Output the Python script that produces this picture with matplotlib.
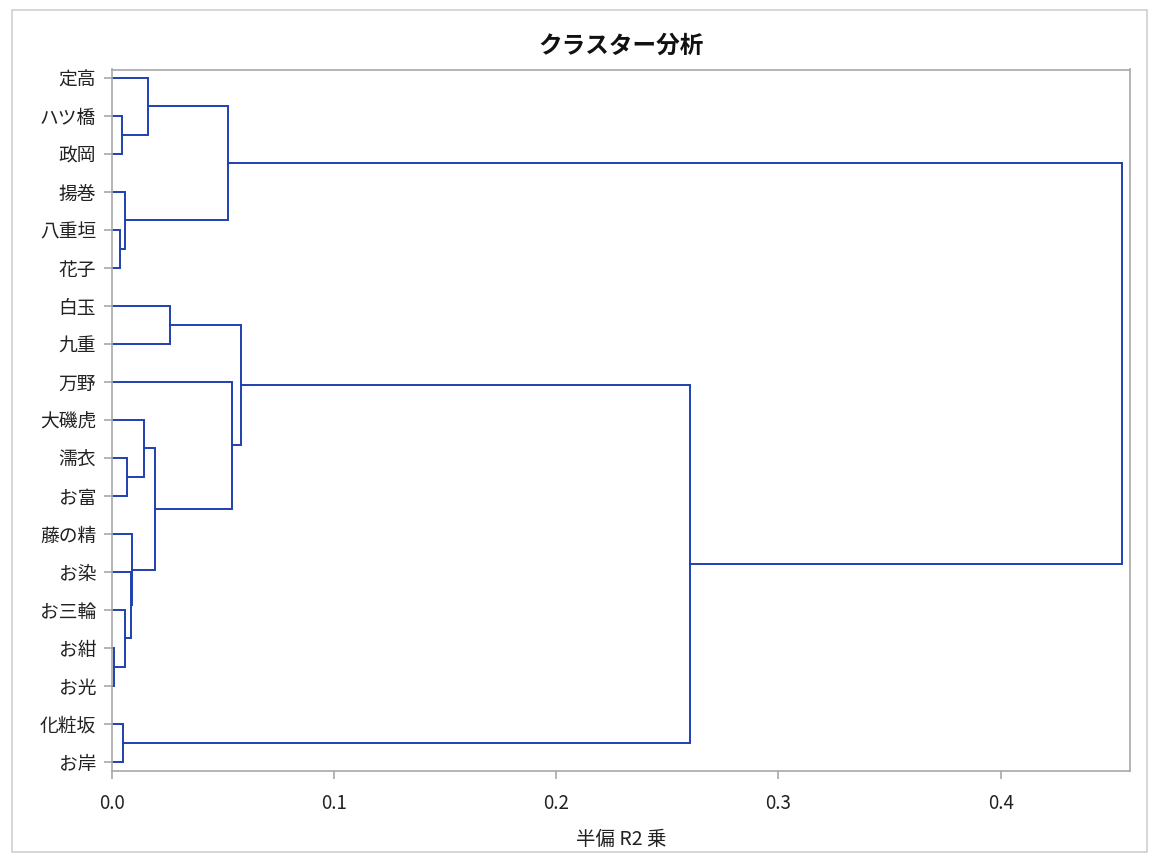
import matplotlib.pyplot as plt
from matplotlib.patches import Rectangle

plt.rcParams['font.family'] = ['Noto Sans CJK JP', 'DejaVu Sans']

# === DATA ===
leaves = ['定高', 'ハツ橋', '政岡', '揚巻', '八重垣', '花子', '白玉', '九重', '万野',
          '大磯虎', '濡衣', 'お富', '藤の精', 'お染', 'お三輪', 'お紺', 'お光',
          '化粧坂', 'お岸']

# merge steps: cluster n+i joins merge_a[i] and merge_b[i] at merge_height[i]
merge_a = [15, 4, 1, 17, 14, 3, 10, 13, 12, 9, 0, 28, 6, 29, 8, 31, 34, 32]
merge_b = [16, 5, 2, 18, 19, 20, 11, 23, 26, 25, 21, 27, 7, 24, 30, 33, 22, 35]
merge_height = [0.0013, 0.0038, 0.0046, 0.0053, 0.0061, 0.0061, 0.0068, 0.0086,
                0.0094, 0.0148, 0.0166, 0.0197, 0.0262, 0.0526, 0.0542, 0.0581,
                0.2603, 0.4546]

x_ticks = [0.0, 0.1, 0.2, 0.3, 0.4]

LINE = '#1f40b0'
GRID = '#a8a8a8'

# === DENDROGRAM ===
fig = plt.figure(figsize=(11.55, 8.61), dpi=100)
ax = fig.add_axes([111.5 / 1155, 1 - 770.7 / 861, (1130 - 111.5) / 1155, (770.7 - 69.5) / 861])

n = len(leaves)
node_x = {i: 0.0 for i in range(n)}
node_y = {i: float(i) for i in range(n)}
for i, (a, b, h) in enumerate(zip(merge_a, merge_b, merge_height)):
    ax.plot([node_x[a], h, h, node_x[b]], [node_y[a], node_y[a], node_y[b], node_y[b]],
            color=LINE, lw=1.4, solid_joinstyle='miter')
    node_x[n + i] = h
    node_y[n + i] = (node_y[a] + node_y[b]) / 2

ax.set_xlim(0, 0.4582)
ax.set_ylim(n - 1 + 0.23, -0.22)
ax.set_yticks(range(n))
ax.set_yticklabels(leaves)
ax.set_xticks(x_ticks)
ax.set_xticklabels([f'{t:.1f}' for t in x_ticks])

for s in ax.spines.values():
    s.set_color(GRID)
    s.set_linewidth(1.2)
ax.tick_params(axis='both', colors=GRID, labelcolor='#222222', length=6, width=1.2,
               labelsize=13.5)
ax.tick_params(axis='y', pad=5)
ax.tick_params(axis='x', pad=10)

ax.set_title('クラスター分析', fontsize=17, fontweight='bold', pad=12, color='#111111')
ax.set_xlabel('半偏 R2 乗', fontsize=14, labelpad=11, color='#222222')

# outer frame
fig.patches.append(Rectangle((12 / 1155, 1 - 852 / 861), 1135 / 1155, 842 / 861,
                             transform=fig.transFigure, fill=False,
                             edgecolor='#d0d0d0', lw=1.2))

fig.savefig('out.png', dpi=100)
